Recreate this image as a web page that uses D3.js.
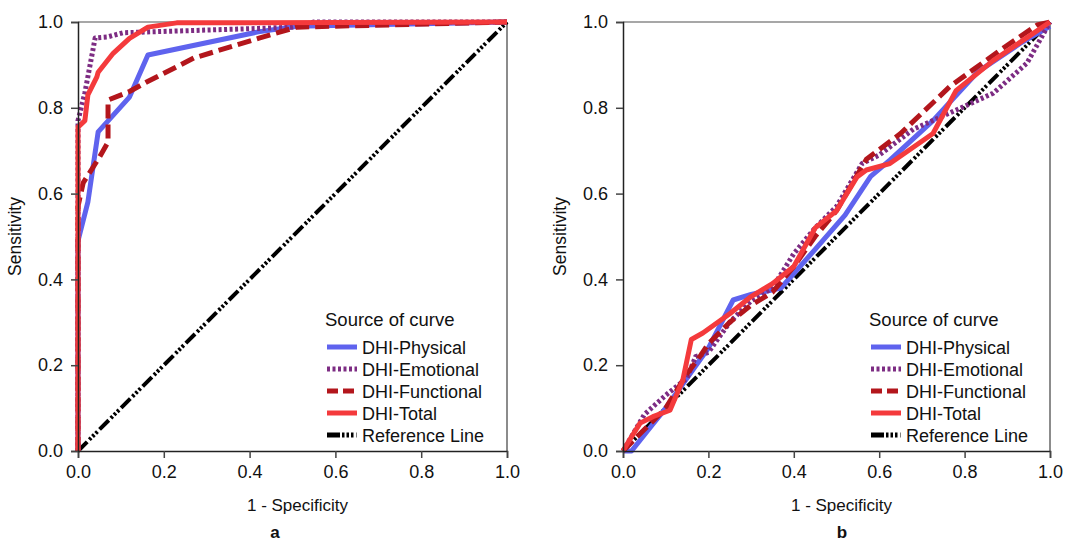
<!DOCTYPE html>
<html>
<head>
<meta charset="utf-8">
<script src="https://cdn.jsdelivr.net/npm/d3@7"></script>
<style>
  body { margin: 0; background: #fff; }
  svg { display: block; font-family: "Liberation Sans", Arial, sans-serif; }
</style>
</head>
<body>
<svg id="chart" width="1081" height="542"></svg>
<script>
// data
var ticks = [0, 0.2, 0.4, 0.6, 0.8, 1.0];
var curveNames = ["DHI-Physical", "DHI-Emotional", "DHI-Functional", "DHI-Total", "Reference Line"];

// panel a
var aPhysical = [[0,0],[0,0.49],[0.023,0.58],[0.047,0.744],[0.12,0.825],[0.163,0.923],[0.42,0.977],[0.51,0.99],[1,1]];
var aEmotional = [[0,0],[0,0.77],[0.016,0.835],[0.04,0.963],[0.068,0.965],[0.105,0.975],[0.42,0.985],[0.5,0.988],[0.55,1],[1,1]];
var aFunctional = [[0,0],[0,0.57],[0.012,0.625],[0.05,0.685],[0.07,0.72],[0.07,0.818],[0.12,0.838],[0.16,0.86],[0.27,0.916],[0.424,0.963],[0.51,0.988],[1,1]];
var aTotal = [[0,0],[0,0.755],[0.016,0.77],[0.023,0.83],[0.044,0.872],[0.047,0.883],[0.082,0.927],[0.12,0.962],[0.163,0.988],[0.23,0.998],[1,1]];

// panel b
var bPhysical = [[0,0],[0.02,0],[0.06,0.05],[0.1,0.1],[0.15,0.17],[0.2,0.24],[0.258,0.352],[0.3,0.365],[0.37,0.38],[0.45,0.47],[0.52,0.55],[0.58,0.64],[0.625,0.678],[0.726,0.77],[0.83,0.883],[0.93,0.95],[1,0.99]];
var bEmotional = [[0,0],[0.05,0.085],[0.1,0.13],[0.15,0.17],[0.17,0.22],[0.2,0.23],[0.25,0.3],[0.3,0.35],[0.35,0.38],[0.4,0.46],[0.45,0.52],[0.5,0.57],[0.56,0.67],[0.6,0.69],[0.68,0.75],[0.77,0.79],[0.867,0.834],[0.946,0.904],[1,1]];
var bFunctional = [[0,0],[0.05,0.05],[0.1,0.1],[0.15,0.18],[0.18,0.22],[0.2,0.25],[0.25,0.3],[0.3,0.34],[0.35,0.37],[0.4,0.43],[0.45,0.5],[0.5,0.56],[0.57,0.68],[0.65,0.74],[0.766,0.85],[0.883,0.934],[0.97,0.993],[1,1]];
var bTotal = [[0,0],[0.015,0.025],[0.04,0.065],[0.07,0.08],[0.11,0.095],[0.14,0.165],[0.16,0.26],[0.187,0.275],[0.25,0.32],[0.3,0.36],[0.35,0.39],[0.4,0.43],[0.45,0.52],[0.5,0.56],[0.548,0.639],[0.57,0.655],[0.625,0.67],[0.726,0.74],[0.78,0.84],[0.867,0.91],[1,1]];
var refLine = [[0,0],[1,1]];

var styles = [
  {color: "#5f63ee", dash: null},
  {color: "#7d2c83", dash: "3,2.5"},
  {color: "#b3161c", dash: "14,6"},
  {color: "#f43a3c", dash: null},
  {color: "#000", dash: "13,3,2.5,2,2.5,2,2.5,3"}
];

var svg = d3.select("#chart");

function drawPanel(left, right, series, legX, label, labelX){
	var x = d3.scaleLinear().domain([0,1]).range([left, right]);
	var y = d3.scaleLinear().domain([0,1]).range([451, 22]);
	var g = svg.append("g");

	// frame: top and right in grey
	g.append("line").attr("x1", x(0)).attr("x2", x(1)).attr("y1", y(1)).attr("y2", y(1))
		.attr("stroke", "#8a8a8a").attr("stroke-width", 1.5);
	g.append("line").attr("x1", x(1)).attr("x2", x(1)).attr("y1", y(1)).attr("y2", y(0))
		.attr("stroke", "#666").attr("stroke-width", 1.5);

	var line = d3.line().x(function(d){return x(d[0])}).y(function(d){return y(d[1])});
	// reference line first, curves on top in the order physical, emotional, functional, total
	var order = [4, 0, 1, 2, 3];
	order.forEach(function(i){
		g.append("path").datum(series[i]).attr("d", line)
			.attr("fill", "none").attr("stroke", styles[i].color)
			.attr("stroke-width", i == 4 ? 4 : 5)
			.attr("stroke-dasharray", styles[i].dash)
			.attr("stroke-linejoin", "round");
	});

	g.append("g").attr("transform", "translate(0," + y(0) + ")")
		.call(d3.axisBottom(x).tickValues(ticks).tickFormat(d3.format(".1f")).tickSize(7).tickPadding(7));
	g.append("g").attr("transform", "translate(" + x(0) + ",0)")
		.call(d3.axisLeft(y).tickValues(ticks).tickFormat(d3.format(".1f")).tickSize(7).tickPadding(8));
	g.selectAll(".domain").attr("stroke", "#222").attr("stroke-width", 1.5);
	g.selectAll(".tick line").attr("stroke", "#444").attr("stroke-width", 1.5);
	g.selectAll(".tick text").attr("font-size", 18).attr("fill", "#111")
		.attr("font-family", "'Liberation Sans', Arial, sans-serif");

	g.append("text").attr("x", (x(0) + x(1)) / 2 + 5).attr("y", 511).attr("text-anchor", "middle")
		.attr("font-size", 17).attr("fill", "#111").text("1 - Specificity");
	g.append("text").attr("transform", "translate(" + (left - 57) + "," + y(0.5) + ") rotate(-90)")
		.attr("text-anchor", "middle").attr("font-size", 17.5).attr("fill", "#111").text("Sensitivity");
	g.append("text").attr("x", labelX).attr("y", 538).attr("text-anchor", "middle")
		.attr("font-size", 17).attr("font-weight", "bold").attr("fill", "#111").text(label);

	// legend
	var leg = g.append("g").attr("transform", "translate(" + legX + ",0)");
	leg.append("text").attr("x", -2).attr("y", 326).attr("font-size", 18.5).attr("fill", "#111")
		.text("Source of curve");
	var items = leg.selectAll(".item").data(curveNames).enter().append("g")
		.attr("transform", function(d, i){ return "translate(0," + (347 + i * 22) + ")"; });
	items.append("line").attr("x1", 0).attr("x2", 30).attr("y1", 0).attr("y2", 0)
		.attr("stroke", function(d, i){ return styles[i].color; })
		.attr("stroke-width", 5)
		.attr("stroke-dasharray", function(d, i){
			return i == 1 ? "3,2.5" : i == 2 ? "11,5" : i == 4 ? "13,2,2.5,2,2.5,2,2.5,3" : null; });
	items.append("text").attr("x", 35).attr("y", 6.5).attr("font-size", 18).attr("fill", "#111")
		.text(function(d){ return d; });
}

drawPanel(78, 507, [aPhysical, aEmotional, aFunctional, aTotal, refLine], 327, "a", 275);
drawPanel(623, 1050, [bPhysical, bEmotional, bFunctional, bTotal, refLine], 871, "b", 842);
</script>
</body>
</html>
